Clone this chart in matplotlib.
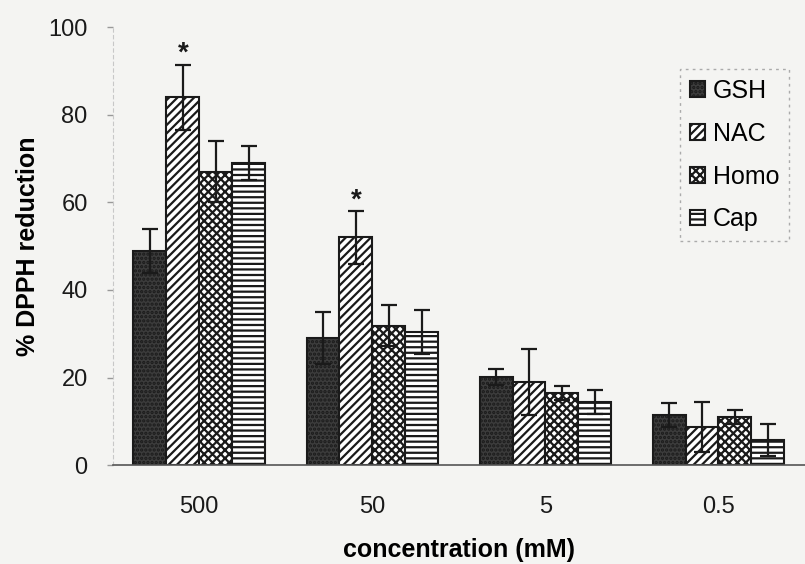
import matplotlib
matplotlib.use("Agg")
import matplotlib.pyplot as plt
import numpy as np

plt.rcParams['font.family'] = ['Liberation Sans', 'DejaVu Sans']
plt.rcParams['hatch.linewidth'] = 1.6

concentrations = ["500", "50", "5", "0.5"]
series = ["GSH", "NAC", "Homo", "Cap"]
gsh = [48.9, 29.0, 20.1, 11.4]
nac = [84.0, 52.0, 19.0, 8.7]
homo = [67.0, 31.8, 16.5, 11.0]
cap = [69.0, 30.4, 14.4, 5.7]
gsh_err = [5.0, 6.0, 1.8, 2.8]
nac_err = [7.5, 6.0, 7.5, 5.8]
homo_err = [7.0, 4.7, 1.6, 1.6]
cap_err = [3.8, 5.0, 2.8, 3.7]
yticks = [0, 20, 40, 60, 80, 100]
star_groups = [0, 1]

values = [gsh, nac, homo, cap]
errors = [gsh_err, nac_err, homo_err, cap_err]
styles = [
    dict(facecolor='#3c3c3c', hatch='....', edgecolor='#1a1a1a'),
    dict(facecolor='white', hatch='////', edgecolor='#1a1a1a'),
    dict(facecolor='white', hatch='xxxx', edgecolor='#1a1a1a'),
    dict(facecolor='white', hatch='---', edgecolor='#1a1a1a'),
]

bg = '#f4f4f2'
fig = plt.figure(figsize=(8.05, 5.64), dpi=100, facecolor=bg)
ax = fig.add_axes([0.140, 0.1755, 0.860, 0.7758], facecolor=bg)

x = np.arange(len(concentrations))
w = 0.19
handles = []
for i, (vals, errs, st) in enumerate(zip(values, errors, styles)):
    pos = x + (i - 1.5) * w
    b = ax.bar(pos, vals, w, linewidth=1.5, label=series[i], zorder=2, **st)
    handles.append(b)
    ax.errorbar(pos, vals, yerr=errs, fmt='none', ecolor='#1a1a1a',
                elinewidth=1.6, capsize=6, capthick=1.6, zorder=3)

for g in star_groups:
    pos = x[g] + (1 - 1.5) * w
    top = nac[g] + nac_err[g]
    ax.text(pos, top + 2.5, '*', ha='center', va='center', fontsize=20,
            fontweight='bold', color='#1a1a1a')

ax.set_xlim(-0.5, 3.5)
ax.set_ylim(0, 100)
ax.set_yticks(yticks)
ax.set_xticks(x)
ax.set_xticklabels(concentrations)
ax.tick_params(axis='x', length=0, labelsize=17, pad=22, colors='#1a1a1a')
ax.tick_params(axis='y', length=4, width=1, color='#999999', labelsize=17,
               pad=14, labelcolor='#1a1a1a')
for s in ['top', 'right']:
    ax.spines[s].set_visible(False)
ax.spines['left'].set_color('#c8c8c8')
ax.spines['left'].set_linestyle((0, (3, 3)))
ax.spines['bottom'].set_color('#555555')
ax.spines['bottom'].set_linewidth(1.2)

ax.set_ylabel('% DPPH reduction', fontsize=18, fontweight='bold', labelpad=6)
ax.set_xlabel('concentration (mM)', fontsize=18, fontweight='bold', labelpad=15)

leg = ax.legend(handles=handles, loc='upper right', bbox_to_anchor=(0.977, 0.905),
                fontsize=18, frameon=True, fancybox=False, handlelength=0.6,
                handleheight=0.6, handletextpad=0.3, labelspacing=0.75,
                borderpad=0.4, borderaxespad=0)
leg.get_frame().set_edgecolor('#999999')
leg.get_frame().set_linestyle((0, (2, 3)))
leg.get_frame().set_facecolor(bg)
leg.get_frame().set_linewidth(1.0)

fig.savefig('out.png', dpi=100, facecolor=bg)
